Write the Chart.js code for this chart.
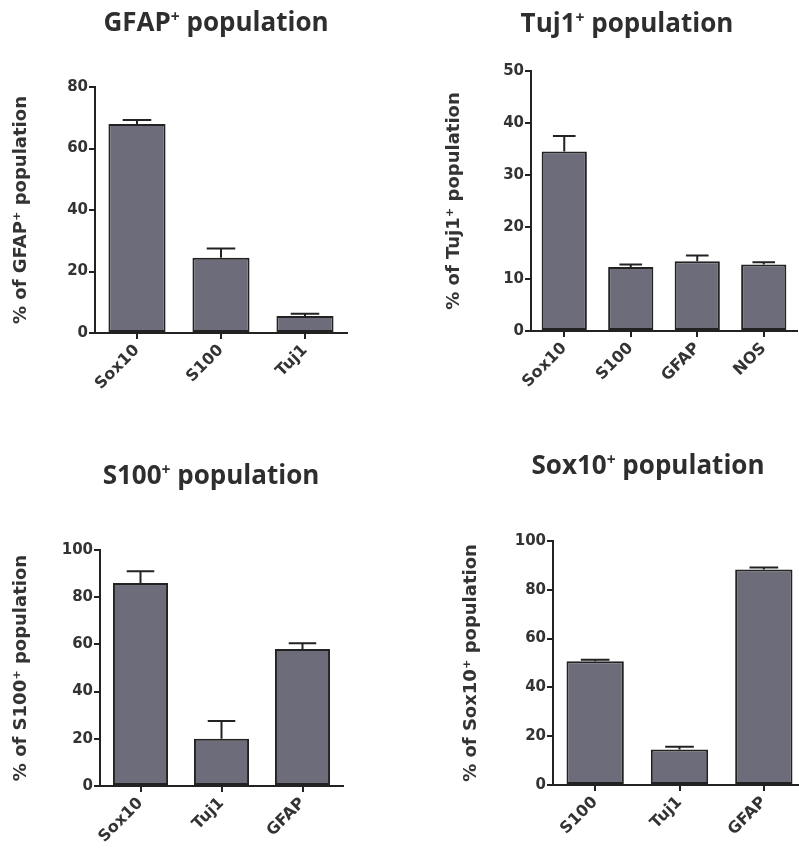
<!DOCTYPE html>
<html>
<head>
<meta charset="utf-8">
<script src="https://cdn.jsdelivr.net/npm/chart.js@4.4.1/dist/chart.umd.min.js"></script>
<style>
  html, body { margin: 0; padding: 0; background: #fff; overflow: hidden; }
  body { width: 799px; height: 848px; position: relative; }
  .panel { position: absolute; width: 400px; height: 424px; }
  .panel canvas { position: absolute; left: 0; top: 0; }
  .title {
    position: absolute; transform: translate(-50%, -50%);
    font-family: "Open Sans", "Noto Sans", sans-serif; font-weight: bold;
    font-size: 26px; color: #2e2e2e; white-space: nowrap; z-index: 2;
  }
  .title sup { font-size: 60%; vertical-align: 0.55em; line-height: 0; }
</style>
</head>
<body>

<div class="panel" style="left:0;top:0">
  <div class="title" style="left:216px;top:21px">GFAP<sup>+</sup> population</div>
  <canvas id="gfapChart" width="400" height="424"></canvas>
</div>
<div class="panel" style="left:400px;top:0">
  <div class="title" style="left:227px;top:22px">Tuj1<sup>+</sup> population</div>
  <canvas id="tuj1Chart" width="400" height="424"></canvas>
</div>
<div class="panel" style="left:0;top:424px">
  <div class="title" style="left:211px;top:50px">S100<sup>+</sup> population</div>
  <canvas id="s100Chart" width="400" height="424"></canvas>
</div>
<div class="panel" style="left:400px;top:424px;width:424px">
  <div class="title" style="left:248px;top:40px">Sox10<sup>+</sup> population</div>
  <canvas id="sox10Chart" width="424" height="424"></canvas>
</div>

<script>
// values (mean and upper error, in %)
const gfapLabels = ['Sox10', 'S100', 'Tuj1'];
const gfapValues = [68, 24.5, 5.5];
const gfapErrors = [1.3, 3, 0.8];

const tuj1Labels = ['Sox10', 'S100', 'GFAP', 'NOS'];
const tuj1Values = [34.5, 12.3, 13.4, 12.8];
const tuj1Errors = [3, 0.5, 1.1, 0.4];

const s100Labels = ['Sox10', 'Tuj1', 'GFAP'];
const s100Values = [86, 20, 58];
const s100Errors = [5, 7.5, 2.5];

const sox10Labels = ['S100', 'Tuj1', 'GFAP'];
const sox10Values = [50.7, 14.6, 88.3];
const sox10Errors = [0.6, 1.1, 0.8];

const barColor = '#6d6c7a';
const inkColor = '#222222';
const fontFamily = '"DejaVu Sans", Verdana, sans-serif';

// draws the upper whisker + cap on every bar
const errorBars = {
    id: 'errorBars',
    afterDatasetsDraw(chart) {
        const ctx = chart.ctx;
        const yScale = chart.scales.y;
        const errors = chart.options.plugins.errorBars.errors;
        const meta = chart.getDatasetMeta(0);
        ctx.save();
        ctx.strokeStyle = inkColor;
        ctx.lineWidth = 2;
        meta.data.forEach((bar, i) => {
            const value = chart.data.datasets[0].data[i];
            const yTop = yScale.getPixelForValue(value + errors[i]);
            const half = bar.width * 0.25;
            ctx.beginPath();
            ctx.moveTo(bar.x, bar.y);
            ctx.lineTo(bar.x, yTop);
            ctx.moveTo(bar.x - half, yTop);
            ctx.lineTo(bar.x + half, yTop);
            ctx.stroke();
        });
        ctx.restore();
    }
};

function makeChart(id, labels, values, errors, opts) {
    const ctx = document.getElementById(id).getContext('2d');
    const canvasW = ctx.canvas.width;
    const canvasH = ctx.canvas.height;

    return new Chart(ctx, {
        type: 'bar',
        data: {
            labels: labels,
            datasets: [{
                data: values,
                backgroundColor: barColor,
                borderColor: inkColor,
                borderWidth: 2,
                borderSkipped: false,
                categoryPercentage: 1,
                barPercentage: 0.68
            }]
        },
        options: {
            responsive: false,
            animation: false,
            layout: {
                padding: { top: opts.top, right: canvasW - opts.right, left: 0, bottom: 0 }
            },
            plugins: {
                legend: { display: false },
                tooltip: { enabled: false },
                errorBars: { errors: errors }
            },
            scales: {
                x: {
                    afterFit: (scale) => { scale.height = canvasH - opts.bottom; },
                    border: { color: inkColor, width: 2 },
                    grid: { offset: false, drawOnChartArea: false, drawTicks: true, tickLength: 6, color: inkColor, lineWidth: 2 },
                    ticks: { color: '#333', font: { family: fontFamily, size: 16, weight: 'bold' }, minRotation: 45, maxRotation: 45, padding: 2 }
                },
                y: {
                    min: 0,
                    max: opts.max,
                    afterFit: (scale) => { scale.width = opts.left; },
                    border: { color: inkColor, width: 2 },
                    grid: { drawOnChartArea: false, drawTicks: true, tickLength: 6, color: inkColor, lineWidth: 2 },
                    ticks: { stepSize: opts.step, color: '#333', font: { family: fontFamily, size: 15, weight: 'bold' }, padding: 1 },
                    title: {
                        display: true,
                        text: opts.yTitle,
                        color: '#333',
                        font: { family: fontFamily, size: 18, weight: 'bold' },
                        padding: { top: opts.yTitleX - 11, bottom: 0 }
                    }
                }
            }
        },
        plugins: [errorBars]
    });
}

makeChart('gfapChart', gfapLabels, gfapValues, gfapErrors,
    { left: 95, right: 347, top: 87, bottom: 333, max: 80, step: 20, yTitleX: 22, yTitle: '% of GFAP\u207A population' });
makeChart('tuj1Chart', tuj1Labels, tuj1Values, tuj1Errors,
    { left: 131, right: 397, top: 71, bottom: 331, max: 50, step: 10, yTitleX: 55, yTitle: '% of Tuj1\u207A population' });
makeChart('s100Chart', s100Labels, s100Values, s100Errors,
    { left: 100, right: 343, top: 126, bottom: 362, max: 100, step: 20, yTitleX: 22, yTitle: '% of S100\u207A population' });
makeChart('sox10Chart', sox10Labels, sox10Values, sox10Errors,
    { left: 153, right: 406, top: 117, bottom: 361, max: 100, step: 20, yTitleX: 72, yTitle: '% of Sox10\u207A population' });
</script>
</body>
</html>
